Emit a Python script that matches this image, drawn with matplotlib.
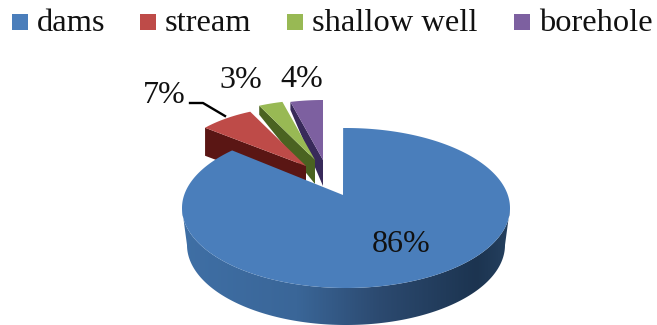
import numpy as np
import matplotlib
matplotlib.use('Agg')
import matplotlib.pyplot as plt
from matplotlib.colors import LinearSegmentedColormap
from matplotlib.patches import Polygon

# data
categories = ['dams', 'stream', 'shallow well', 'borehole']
shares = [86, 7, 3, 4]
labels = ['86%', '7%', '3%', '4%']

# colours
top_colors = ['#4A7EBB', '#BE4B48', '#98B954', '#7D60A0']
side_colors = ['#2F5580', '#5A1614', '#4A6321', '#382A5A']

# layout, in picture pixels
apex = [(343, 195), (306, 166), (315, 160), (323, 160)]
centre = (346, 208)
radius_x = [164, 131, 131, 131]
radius_y = [80, 60, 60, 60]
# depth of the cut face at the outer corner / at the apex
depth_outer = [0, 28, 9, 8]
depth_apex = [0, 28, 24, 26]
main_depth = 37
main_bottom_inset = 5  # bottom rim is a little narrower than the top
main_sweep_scale = 1.024  # perspective stretch of the big slice
label_pos = [(401, 252), (164.5, 103), (240.5, 88), (301.5, 87)]
legend_x = [12, 140, 287, 514]
legend_text_x = [37, 165, 312, 539]

fig = plt.figure(figsize=(6.57, 3.25), dpi=100)
ax = fig.add_axes([0, 0, 1, 1])
ax.axis('off')

# slice angles, clockwise from 12 o'clock
fractions = np.array(shares) / np.sum(shares)
ends = 90 - 360 * np.cumsum(fractions)
starts = np.concatenate(([90], ends[:-1]))

# small exploded slices, back to front
for i in [3, 2, 1]:
    ax0, ay0 = apex[i]
    t = np.radians(np.linspace(starts[i], ends[i], 40))
    ex = ax0 + radius_x[i] * np.cos(t)
    ey = ay0 - radius_y[i] * np.sin(t)
    # cut face on the left, seen from above
    ax.fill([ex[0], ax0, ax0, ex[0]],
            [ey[0], ay0, ay0 + depth_apex[i], ey[0] + depth_outer[i]],
            color=side_colors[i], lw=0, zorder=2 + (3 - i))
    ax.fill(np.r_[ax0, ex], np.r_[ay0, ey], color=top_colors[i], lw=0,
            zorder=2.5 + (3 - i))

# outer wall of the big slice, shaded left to right
cx, cy = centre
rx, ry = radius_x[0], radius_y[0]
t = np.radians(np.linspace(180, 360, 181))
wx = cx + rx * np.cos(t)
wy = cy - ry * np.sin(t)
bx = cx + (rx - main_bottom_inset) * np.cos(t)
wall = Polygon(np.c_[np.r_[wx, bx[::-1]], np.r_[wy, wy[::-1] + main_depth]],
               closed=True, transform=ax.transData, fc='none', lw=0)
ax.add_patch(wall)
wall_cmap = LinearSegmentedColormap.from_list(
    'wall', [(0, '#3F6FA5'), (0.35, '#3A6698'), (0.6, '#2C4A70'),
             (0.9, '#1C3450'), (1, '#25405F')])
im = ax.imshow(np.linspace(0, 1, 256)[None, :], cmap=wall_cmap, aspect='auto',
               extent=[cx - rx, cx + rx, cy + ry + main_depth, cy - 1], zorder=6)
im.set_clip_path(wall)

# top of the big slice
main_sweep = 360 * fractions[0] * main_sweep_scale
t = np.radians(np.linspace(91, 91 - main_sweep, 300))
ex = cx + rx * np.cos(t)
ey = cy - ry * np.sin(t)
ax.fill(np.r_[apex[0][0], ex], np.r_[apex[0][1], ey], color=top_colors[0],
        lw=0, zorder=7)

# data labels
for (x, y), s in zip(label_pos, labels):
    ax.text(x, y, s, family='Liberation Serif', fontsize=23, color='#111111',
            ha='center', va='baseline', zorder=9)

# leader line for stream
ax.plot([190, 203, 225], [103, 103, 116], color='black', lw=1.7, zorder=9)

# legend
for i, name in enumerate(categories):
    ax.fill([legend_x[i], legend_x[i] + 16, legend_x[i] + 16, legend_x[i]],
            [14, 14, 30, 30], color=top_colors[i], lw=0)
    ax.text(legend_text_x[i], 31, name, family='Liberation Serif', fontsize=23.4,
            color='#111111', ha='left', va='baseline')

ax.set_xlim(0, 657)
ax.set_ylim(325, 0)

fig.savefig('out.png', dpi=100)
